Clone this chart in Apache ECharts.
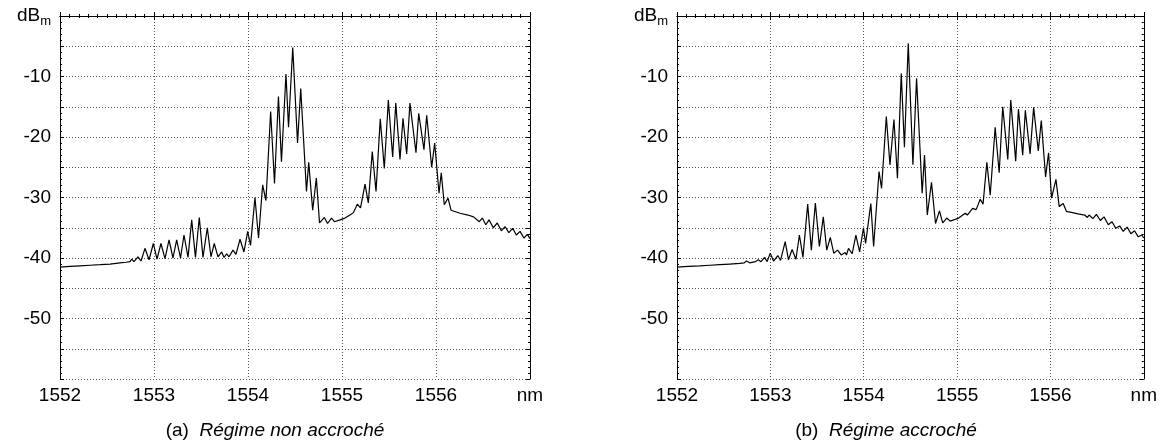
<!DOCTYPE html>
<html>
<head>
<meta charset="utf-8">
<script src="https://cdn.jsdelivr.net/npm/echarts@6/dist/echarts.min.js"></script>
<style>
html,body{margin:0;padding:0;background:#fff;}
#c{width:1160px;height:443px;}
</style>
</head>
<body>
<div id="c"></div>
<script>
// ---- Data (wavelength in nm, power in dBm) ----
const wlA = [1552.000,1552.106,1552.213,1552.319,1552.426,1552.532,1552.638,1552.700,1552.745,1552.763,1552.787,1552.830,1552.862,1552.904,1552.947,1552.993,1553.032,1553.074,1553.117,1553.160,1553.202,1553.241,1553.282,1553.319,1553.362,1553.401,1553.441,1553.482,1553.521,1553.567,1553.606,1553.641,1553.681,1553.720,1553.745,1553.773,1553.798,1553.840,1553.872,1553.915,1553.957,1553.997,1554.027,1554.074,1554.112,1554.156,1554.191,1554.241,1554.282,1554.324,1554.356,1554.404,1554.431,1554.476,1554.527,1554.561,1554.622,1554.646,1554.688,1554.727,1554.761,1554.812,1554.846,1554.888,1554.920,1554.979,1555.032,1555.085,1555.122,1555.163,1555.197,1555.245,1555.280,1555.322,1555.362,1555.407,1555.450,1555.493,1555.539,1555.572,1555.617,1555.649,1555.688,1555.723,1555.787,1555.816,1555.872,1555.901,1555.954,1555.986,1556.032,1556.056,1556.088,1556.128,1556.160,1556.255,1556.340,1556.400,1556.460,1556.493,1556.530,1556.564,1556.610,1556.652,1556.695,1556.734,1556.775,1556.816,1556.855,1556.894,1556.935,1556.971,1557.000];
const dbA = [-41.5,-41.4,-41.3,-41.2,-41.1,-41.0,-40.8,-40.7,-40.6,-40.2,-40.6,-39.8,-40.5,-38.4,-40.3,-37.6,-40.2,-37.6,-40.1,-37.0,-40.0,-37.0,-40.0,-36.2,-39.9,-33.7,-39.9,-33.3,-39.9,-35.0,-39.8,-37.6,-39.8,-39.0,-39.9,-39.3,-39.8,-38.7,-39.4,-36.9,-39.0,-35.6,-37.9,-30.0,-36.7,-27.9,-30.5,-15.8,-27.7,-13.3,-24.1,-9.6,-18.4,-5.2,-21.0,-12.0,-29.0,-24.2,-32.1,-26.8,-34.2,-33.3,-34.3,-33.4,-34.0,-33.7,-33.4,-32.9,-32.5,-31.1,-31.7,-27.8,-30.9,-22.4,-29.0,-17.0,-25.2,-13.9,-23.3,-14.4,-23.7,-16.9,-22.8,-14.4,-22.6,-16.1,-22.1,-16.4,-25.0,-21.0,-29.3,-25.9,-31.2,-30.1,-32.1,-32.6,-32.9,-33.2,-34.0,-33.4,-34.5,-33.7,-35.0,-34.2,-35.5,-34.8,-35.8,-35.1,-36.2,-35.6,-36.7,-36.1,-36.8];

const wlB = [1552.000,1552.120,1552.245,1552.350,1552.458,1552.565,1552.672,1552.720,1552.743,1552.778,1552.842,1552.870,1552.900,1552.938,1552.965,1552.999,1553.034,1553.080,1553.109,1553.159,1553.194,1553.233,1553.274,1553.311,1553.349,1553.400,1553.439,1553.482,1553.525,1553.567,1553.604,1553.642,1553.679,1553.720,1553.759,1553.800,1553.815,1553.837,1553.876,1553.916,1553.956,1553.997,1554.020,1554.076,1554.106,1554.164,1554.191,1554.242,1554.281,1554.324,1554.361,1554.402,1554.436,1554.477,1554.527,1554.566,1554.626,1554.651,1554.681,1554.726,1554.769,1554.811,1554.846,1554.889,1554.926,1555.017,1555.088,1555.110,1555.166,1555.204,1555.248,1555.278,1555.319,1555.355,1555.408,1555.451,1555.489,1555.543,1555.575,1555.628,1555.657,1555.703,1555.731,1555.782,1555.820,1555.870,1555.902,1555.948,1555.980,1556.012,1556.059,1556.094,1556.136,1556.172,1556.296,1556.368,1556.395,1556.414,1556.455,1556.492,1556.535,1556.574,1556.620,1556.659,1556.700,1556.741,1556.780,1556.822,1556.862,1556.901,1556.940,1556.979,1557.000];
const dbB = [-41.5,-41.4,-41.3,-41.2,-41.1,-41.0,-40.9,-40.8,-40.5,-40.8,-40.6,-40.3,-40.6,-39.9,-40.6,-39.2,-40.5,-39.6,-40.4,-37.3,-40.3,-38.6,-40.2,-36.2,-39.9,-31.1,-38.7,-30.9,-38.1,-33.2,-38.7,-36.6,-39.2,-38.7,-39.5,-39.1,-39.5,-38.4,-39.3,-36.2,-39.0,-35.0,-37.6,-31.0,-38.1,-25.7,-28.5,-16.6,-24.6,-17.1,-26.8,-9.5,-21.7,-4.5,-24.6,-10.3,-29.3,-23.0,-32.9,-27.5,-34.3,-32.2,-34.2,-33.4,-33.9,-33.4,-32.6,-32.9,-31.8,-32.0,-30.3,-31.1,-24.2,-29.6,-18.4,-25.9,-15.0,-23.7,-13.9,-24.0,-15.4,-23.0,-15.6,-22.8,-15.1,-22.3,-17.3,-26.6,-22.6,-30.1,-27.0,-31.5,-31.0,-32.3,-32.7,-32.9,-33.3,-32.9,-33.5,-32.8,-33.8,-33.2,-34.5,-34.0,-35.1,-34.7,-35.6,-34.9,-36.0,-35.5,-36.5,-36.2,-36.7];

const xTickMin = 1552, xTickMax = 1557, xStep = 1;
const yTickMin = -60, yTickMax = 0, yStep = 5;
const xUnit = 'nm';
const captions = ['(a)', 'Régime non accroché', '(b)', 'Régime accroché'];

const zip = (a, b) => a.map((v, i) => [v, b[i]]);

const FONT = 'Liberation Sans';
const FS = 19;
const gridDot = { color: '#555', width: 1, type: [1, 2] };

function xAxes(gridIndex) {
  return [
    {
      type: 'value', gridIndex, position: 'bottom',
      min: xTickMin, max: xTickMax, interval: xStep,
      axisLine: { show: true, lineStyle: { color: '#000', width: 1 } },
      axisTick: { show: true, inside: true, length: 4, lineStyle: { color: '#000' } },
      minorTick: { show: true, splitNumber: 10, length: 2, lineStyle: { color: '#000' } },
      splitLine: { show: true, lineStyle: gridDot },
      axisLabel: {
        margin: 7, color: '#000', fontFamily: FONT, fontSize: FS,
        formatter: v => (v === xTickMax ? xUnit : String(v))
      }
    },
    {
      type: 'value', gridIndex, position: 'top',
      min: xTickMin, max: xTickMax, interval: xStep,
      axisLine: { show: true, lineStyle: { color: '#000', width: 1 } },
      axisTick: { show: true, inside: true, length: 4, lineStyle: { color: '#000' } },
      minorTick: { show: true, splitNumber: 10, length: 2, lineStyle: { color: '#000' } },
      splitLine: { show: false }, axisLabel: { show: false }
    }
  ];
}
function yAxes(gridIndex) {
  return [
    {
      type: 'value', gridIndex, position: 'left',
      min: yTickMin, max: yTickMax, interval: yStep,
      axisLine: { show: true, lineStyle: { color: '#000', width: 1 } },
      axisTick: { show: true, inside: true, length: 4, lineStyle: { color: '#000' } },
      minorTick: { show: true, splitNumber: 5, length: 2, lineStyle: { color: '#000' } },
      splitLine: { show: true, lineStyle: gridDot },
      axisLabel: {
        margin: 9, color: '#000', fontFamily: FONT, fontSize: FS,
        formatter: v => {
          if (v === yTickMax) return '{u|dB}{s|m}';
          if (v === yTickMin || v % 10 !== 0) return '';
          return String(v);
        },
        rich: {
          u: { fontFamily: FONT, fontSize: FS, color: '#000', lineHeight: 24, verticalAlign: 'middle' },
          s: { fontFamily: FONT, fontSize: 13, color: '#000', lineHeight: 24, verticalAlign: 'bottom' }
        }
      }
    },
    {
      type: 'value', gridIndex, position: 'right',
      min: yTickMin, max: yTickMax, interval: yStep,
      axisLine: { show: true, lineStyle: { color: '#000', width: 1 } },
      axisTick: { show: true, inside: true, length: 4, lineStyle: { color: '#000' } },
      minorTick: { show: true, splitNumber: 5, length: 2, lineStyle: { color: '#000' } },
      splitLine: { show: false }, axisLabel: { show: false }
    }
  ];
}

const chart = echarts.init(document.getElementById('c'), null, { renderer: 'canvas' });
const capStyle = { fontFamily: FONT, fontSize: FS, fontWeight: 'normal', color: '#000',
  rich: { i: { fontFamily: FONT, fontSize: FS, fontStyle: 'italic', color: '#000' } } };
chart.setOption({
  animation: false,
  backgroundColor: '#fff',
  textStyle: { fontFamily: FONT },
  title: [
    { left: 270, top: 416, textAlign: 'center',
      text: captions[0] + '  {i|' + captions[1] + '}', textStyle: capStyle },
    { left: 881, top: 416, textAlign: 'center',
      text: captions[2] + '  {i|' + captions[3] + '}', textStyle: capStyle }
  ],
  grid: [
    { left: 60, right: 630, top: 16, bottom: 64 },
    { left: 677, right: 14, top: 16, bottom: 64 }
  ],
  xAxis: [...xAxes(0), ...xAxes(1)],
  yAxis: [...yAxes(0), ...yAxes(1)],
  series: [
    { type: 'line', xAxisIndex: 0, yAxisIndex: 0, data: zip(wlA, dbA), showSymbol: false,
      lineStyle: { color: '#000', width: 1.2 }, itemStyle: { color: '#000' } },
    { type: 'line', xAxisIndex: 2, yAxisIndex: 2, data: zip(wlB, dbB), showSymbol: false,
      lineStyle: { color: '#000', width: 1.2 }, itemStyle: { color: '#000' } }
  ]
});
</script>
</body>
</html>
